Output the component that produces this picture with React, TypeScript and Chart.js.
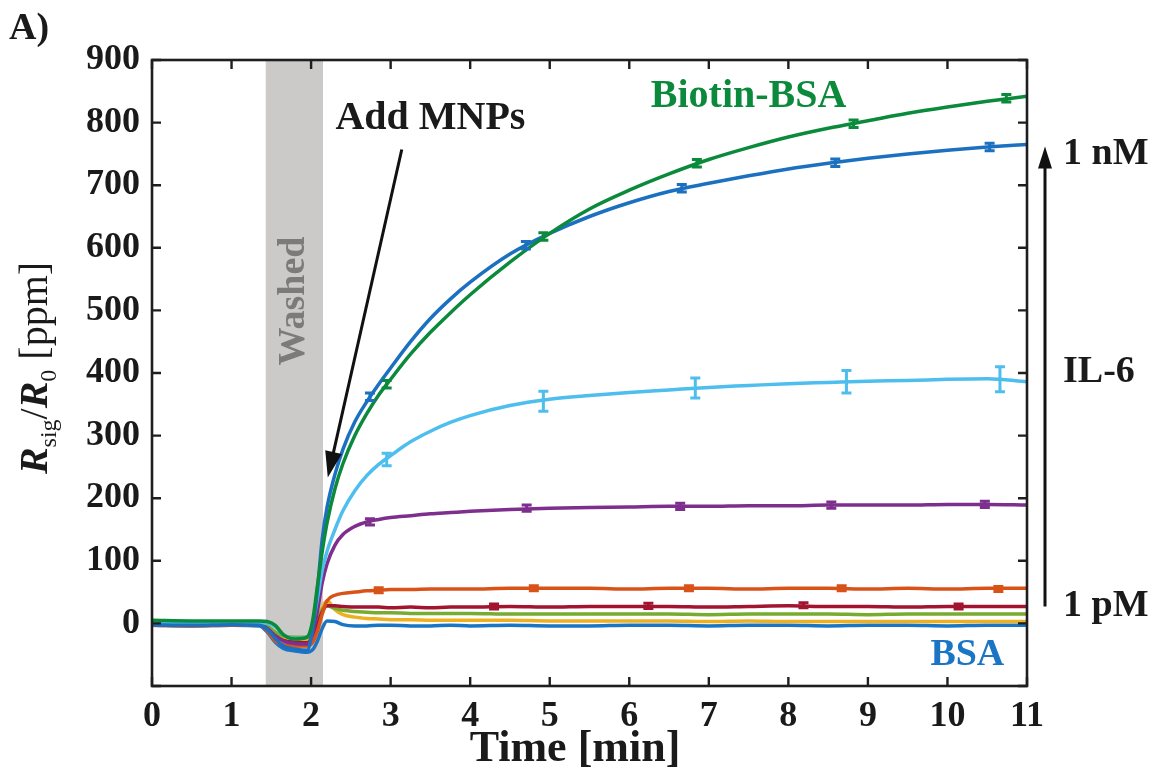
import { useEffect, useRef } from 'react';
import { Chart, registerables } from 'chart.js';

Chart.register(...registerables);

// ---------- data ----------
const T = [0, 0.5, 1.0, 1.35, 1.45, 1.55, 1.65, 1.8, 1.95, 2.02, 2.08, 2.14, 2.2, 2.3, 2.4, 2.55, 2.7, 2.85, 3.0, 3.25, 3.5, 3.75, 4.0, 4.5, 5.0, 5.5, 6.0, 6.5, 7.0, 7.5, 8.0, 8.5, 9.0, 9.5, 10.0, 10.5, 11.0];

const biotinBSA = [5, 4, 4, 4, 3, -3, -18, -25, -22, 5, 60, 115, 160, 215, 255, 300, 335, 365, 390, 430, 465, 496, 525, 577, 623, 662, 692, 718, 741, 760, 777, 791, 803, 815, 825, 834, 842];
const il6_1nM = [-2, -3, -2, -3, -10, -24, -36, -41, -43, -8, 55, 135, 185, 238, 278, 322, 354, 382, 408, 450, 487, 518, 545, 590, 623, 650, 672, 690, 703, 715, 726, 735, 743, 750, 756, 761, 765];
const il6_100pM = [1, 0, 1, 1, 0, -5, -18, -24, -22, 0, 40, 85, 115, 150, 180, 212, 236, 254, 268, 290, 307, 321, 332, 348, 358, 364, 369, 373, 377, 380, 383, 385, 387, 388, 390, 391, 386];
const il6_10pM = [-2, -2, -1, -2, -8, -20, -28, -32, -33, -15, 20, 65, 95, 125, 142, 155, 162, 166, 169, 172, 175, 177, 179, 182, 184, 185, 186, 187, 187, 188, 188, 189, 189, 189, 190, 190, 189];
const il6_5pM = [-3, -4, -3, -3, -12, -28, -34, -36, -36, -30, -12, 15, 36, 45, 48, 50, 52, 53, 54, 54, 55, 55, 55, 56, 56, 56, 55, 56, 56, 55, 56, 56, 55, 56, 55, 56, 56];
const il6_3pM = [-1, -2, -1, -2, -9, -20, -27, -30, -31, -22, -2, 18, 28, 28, 27, 26, 26, 26, 25, 26, 25, 26, 26, 27, 26, 27, 27, 27, 26, 27, 28, 27, 27, 26, 27, 27, 27];
const il6_2pM = [3, 2, 2, 2, -4, -14, -20, -22, -22, -12, 5, 22, 28, 24, 21, 19, 18, 17, 17, 16, 16, 16, 16, 15, 15, 15, 15, 15, 14, 15, 15, 15, 14, 15, 15, 15, 15];
const il6_1pM = [0, -1, 0, 0, -6, -18, -24, -26, -27, -15, 5, 25, 36, 22, 14, 10, 8, 7, 6, 6, 5, 5, 5, 5, 4, 4, 4, 4, 3, 4, 3, 3, 3, 3, 3, 3, 3];
const bsa = [-3, -4, -3, -4, -14, -30, -40, -44, -46, -42, -28, -8, 4, 3, -2, -4, -4, -3, -3, -4, -4, -3, -4, -3, -4, -4, -3, -3, -4, -3, -3, -4, -3, -3, -4, -3, -3];

// error bars: time, centre, half-range
const ebBiotinT = [2.95, 4.92, 6.85, 8.82, 10.74];
const ebBiotinV = [382, 618, 735, 798, 839];
const ebBiotinE = [6, 6, 6, 6, 6];
const eb1nMT = [2.74, 4.7, 6.66, 8.59, 10.53];
const eb1nMV = [362, 604, 695, 736, 761];
const eb1nME = [6, 6, 6, 6, 6];
const eb100pMT = [2.95, 4.92, 6.83, 8.73, 10.66];
const eb100pMV = [262, 355, 376, 386, 390];
const eb100pME = [10, 16, 16, 18, 20];
const eb10pMT = [2.74, 4.71, 6.64, 8.54, 10.47];
const eb10pMV = [162, 184, 187, 189, 190];
const eb10pME = [5, 5, 5, 5, 5];
const eb5pMT = [2.85, 4.8, 6.75, 8.67, 10.64];
const eb5pMV = [53, 56, 56, 56, 55];
const eb5pME = [4, 4, 4, 4, 4];
const eb3pMT = [4.3, 6.24, 8.19, 10.14];
const eb3pMV = [27, 28, 29, 27];
const eb3pME = [4, 4, 4, 4];

const xTicks = [0, 1, 2, 3, 4, 5, 6, 7, 8, 9, 10, 11];
const yTicks = [-100, 0, 100, 200, 300, 400, 500, 600, 700, 800, 900];

const washedStart = 1.43;
const washedEnd = 2.15;

// ---------- styles ----------
const SERIF = '"Liberation Serif", "Times New Roman", serif';
const C = {
  biotin: '#0b8a3c',
  nM1: '#1b70c0',
  pM100: '#4dbeee',
  pM10: '#7e2f8e',
  pM5: '#d95319',
  pM3: '#a2142f',
  pM2: '#77ac30',
  pM1: '#edb120',
  bsa: '#1a76c4',
};

const seriesDefs = [
  { label: 'Biotin-BSA', data: biotinBSA, color: C.biotin, eb: [ebBiotinT, ebBiotinV, ebBiotinE] },
  { label: '1 nM', data: il6_1nM, color: C.nM1, eb: [eb1nMT, eb1nMV, eb1nME] },
  { label: '100 pM', data: il6_100pM, color: C.pM100, eb: [eb100pMT, eb100pMV, eb100pME] },
  { label: '10 pM', data: il6_10pM, color: C.pM10, eb: [eb10pMT, eb10pMV, eb10pME] },
  { label: '5 pM', data: il6_5pM, color: C.pM5, eb: [eb5pMT, eb5pMV, eb5pME] },
  { label: '3 pM', data: il6_3pM, color: C.pM3, eb: [eb3pMT, eb3pMV, eb3pME] },
  { label: '2 pM', data: il6_2pM, color: C.pM2, eb: null },
  { label: '1 pM', data: il6_1pM, color: C.pM1, eb: null },
  { label: 'BSA', data: bsa, color: C.bsa, eb: null },
];

function drawArrow(ctx: CanvasRenderingContext2D, x1: number, y1: number, x2: number, y2: number, headLen: number, headW: number, lw: number) {
  const ang = Math.atan2(y2 - y1, x2 - x1);
  const bx = x2 - headLen * Math.cos(ang);
  const by = y2 - headLen * Math.sin(ang);
  ctx.save();
  ctx.strokeStyle = '#111';
  ctx.fillStyle = '#111';
  ctx.lineWidth = lw;
  ctx.beginPath();
  ctx.moveTo(x1, y1);
  ctx.lineTo(bx + 2 * Math.cos(ang), by + 2 * Math.sin(ang));
  ctx.stroke();
  ctx.beginPath();
  ctx.moveTo(x2, y2);
  ctx.lineTo(bx + (headW / 2) * Math.sin(ang), by - (headW / 2) * Math.cos(ang));
  ctx.lineTo(bx - (headW / 2) * Math.sin(ang), by + (headW / 2) * Math.cos(ang));
  ctx.closePath();
  ctx.fill();
  ctx.restore();
}

const overlayPlugin = {
  id: 'overlay',
  beforeDatasetsDraw(chart: any) {
    const { ctx, chartArea: a, scales } = chart;
    const xs = scales.x;
    const ys = scales.y;
    ctx.save();
    const x1 = xs.getPixelForValue(washedStart);
    const x2 = xs.getPixelForValue(washedEnd);
    ctx.fillStyle = '#cbcac8';
    ctx.fillRect(x1, a.top, x2 - x1, a.bottom - a.top);
    ctx.translate((x1 + x2) / 2, ys.getPixelForValue(515));
    ctx.rotate(-Math.PI / 2);
    ctx.fillStyle = '#7b7b7b';
    ctx.font = `bold 38px ${SERIF}`;
    ctx.textAlign = 'center';
    ctx.textBaseline = 'middle';
    ctx.fillText('Washed', 0, 0);
    ctx.restore();
  },
  afterDatasetsDraw(chart: any) {
    const { ctx, chartArea: a, scales } = chart;
    const xs = scales.x;
    const ys = scales.y;
    ctx.save();
    // error bars
    seriesDefs.forEach((s) => {
      if (!s.eb) return;
      const [ts, vs, es] = s.eb;
      ctx.strokeStyle = s.color;
      ctx.lineWidth = 3;
      ts.forEach((t: number, i: number) => {
        const px = xs.getPixelForValue(t);
        const yTop = ys.getPixelForValue(vs[i] + es[i]);
        const yBot = ys.getPixelForValue(vs[i] - es[i]);
        ctx.beginPath();
        ctx.moveTo(px, yTop);
        ctx.lineTo(px, yBot);
        ctx.moveTo(px - 5, yTop);
        ctx.lineTo(px + 5, yTop);
        ctx.moveTo(px - 5, yBot);
        ctx.lineTo(px + 5, yBot);
        ctx.stroke();
      });
    });

    // frame
    ctx.strokeStyle = '#1e1e1e';
    ctx.lineWidth = 2.6;
    ctx.strokeRect(a.left, a.top, a.right - a.left, a.bottom - a.top);
    ctx.lineWidth = 2.4;
    const tl = 9;
    ctx.beginPath();
    xTicks.forEach((v) => {
      const px = xs.getPixelForValue(v);
      ctx.moveTo(px, a.bottom);
      ctx.lineTo(px, a.bottom - tl);
      ctx.moveTo(px, a.top);
      ctx.lineTo(px, a.top + tl);
    });
    yTicks.forEach((v) => {
      const py = ys.getPixelForValue(v);
      ctx.moveTo(a.left, py);
      ctx.lineTo(a.left + tl, py);
      ctx.moveTo(a.right, py);
      ctx.lineTo(a.right - tl, py);
    });
    ctx.stroke();

    // Add MNPs annotation
    ctx.fillStyle = '#1a1a1a';
    ctx.font = `bold 40px ${SERIF}`;
    ctx.textAlign = 'center';
    ctx.textBaseline = 'middle';
    ctx.fillText('Add MNPs', xs.getPixelForValue(3.5), ys.getPixelForValue(806));
    drawArrow(ctx, xs.getPixelForValue(3.14), ys.getPixelForValue(757), xs.getPixelForValue(2.21), ys.getPixelForValue(233), 26, 17, 3);

    // series labels
    ctx.fillStyle = C.biotin;
    ctx.fillText('Biotin-BSA', xs.getPixelForValue(7.5), ys.getPixelForValue(841));
    ctx.fillStyle = C.bsa;
    ctx.font = `bold 38px ${SERIF}`;
    ctx.fillText('BSA', xs.getPixelForValue(10.25), ys.getPixelForValue(-51));

    // concentration arrow on the right
    const ax = a.right + 18;
    drawArrow(ctx, ax, ys.getPixelForValue(27), ax, ys.getPixelForValue(762), 22, 14, 3);
    ctx.fillStyle = '#1a1a1a';
    ctx.font = `bold 38px ${SERIF}`;
    ctx.textAlign = 'left';
    ctx.fillText('1 nM', a.right + 36, ys.getPixelForValue(750));
    ctx.fillText('IL-6', a.right + 36, ys.getPixelForValue(402));
    ctx.fillText('1 pM', a.right + 36, ys.getPixelForValue(27));

    // panel label
    ctx.font = `bold 38px ${SERIF}`;
    ctx.fillText('A)', 9, 29);

    // x title
    ctx.textAlign = 'center';
    ctx.font = `bold 44px ${SERIF}`;
    ctx.fillText('Time [min]', 575, 750);

    // y title with italics and subscripts
    const segs = [
      { t: 'R', f: `italic bold 40px ${SERIF}`, dy: 0 },
      { t: 'sig', f: `24px ${SERIF}`, dy: 9 },
      { t: '/', f: `40px ${SERIF}`, dy: 0 },
      { t: 'R', f: `italic bold 40px ${SERIF}`, dy: 0 },
      { t: '0', f: `24px ${SERIF}`, dy: 9 },
      { t: ' [ppm]', f: `40px ${SERIF}`, dy: 0 },
    ];
    let total = 0;
    segs.forEach((s) => {
      ctx.font = s.f;
      total += ctx.measureText(s.t).width;
    });
    ctx.translate(47, 368);
    ctx.rotate(-Math.PI / 2);
    ctx.textAlign = 'left';
    ctx.textBaseline = 'alphabetic';
    let cx = -total / 2;
    segs.forEach((s) => {
      ctx.font = s.f;
      ctx.fillText(s.t, cx, s.dy);
      cx += ctx.measureText(s.t).width;
    });
    ctx.restore();
  },
};

export default function App() {
  const ref = useRef<HTMLCanvasElement>(null);
  useEffect(() => {
    if (!ref.current) return;
    const chart = new Chart(ref.current, {
      type: 'line',
      data: {
        datasets: seriesDefs.map((s) => ({
          label: s.label,
          data: T.map((t, i) => ({ x: t, y: s.data[i] })),
          borderColor: s.color,
          backgroundColor: s.color,
          borderWidth: 3.5,
          pointRadius: 0,
          cubicInterpolationMode: 'monotone' as const,
          fill: false,
        })),
      },
      options: {
        responsive: false,
        animation: false,
        layout: { padding: { left: 0, right: 134, top: 60, bottom: 0 } },
        plugins: { legend: { display: false }, tooltip: { enabled: false } },
        scales: {
          x: {
            type: 'linear',
            min: 0,
            max: 11,
            afterFit: (s: any) => { s.height = 92; },
            afterBuildTicks: (s: any) => { s.ticks = xTicks.map((v) => ({ value: v })); },
            grid: { display: false, drawTicks: false },
            border: { display: false },
            ticks: {
              padding: 9,
              color: '#1a1a1a',
              font: { family: SERIF, size: 36, weight: 'bold' },
              maxRotation: 0,
            },
          },
          y: {
            type: 'linear',
            min: -100,
            max: 900,
            afterFit: (s: any) => { s.width = 152; },
            afterBuildTicks: (s: any) => { s.ticks = yTicks.map((v) => ({ value: v })); },
            grid: { display: false, drawTicks: false },
            border: { display: false },
            ticks: {
              padding: 12,
              color: '#1a1a1a',
              font: { family: SERIF, size: 36, weight: 'bold' },
              callback: (v: any) => (v === -100 ? '' : String(v)),
            },
          },
        },
      },
      plugins: [overlayPlugin],
    } as any);
    return () => chart.destroy();
  }, []);
  return (
    <div style={{ position: 'absolute', left: 0, top: 0, width: 1161, height: 778, background: '#fff' }}>
      <canvas ref={ref} width={1161} height={778} style={{ display: 'block' }} />
    </div>
  );
}
